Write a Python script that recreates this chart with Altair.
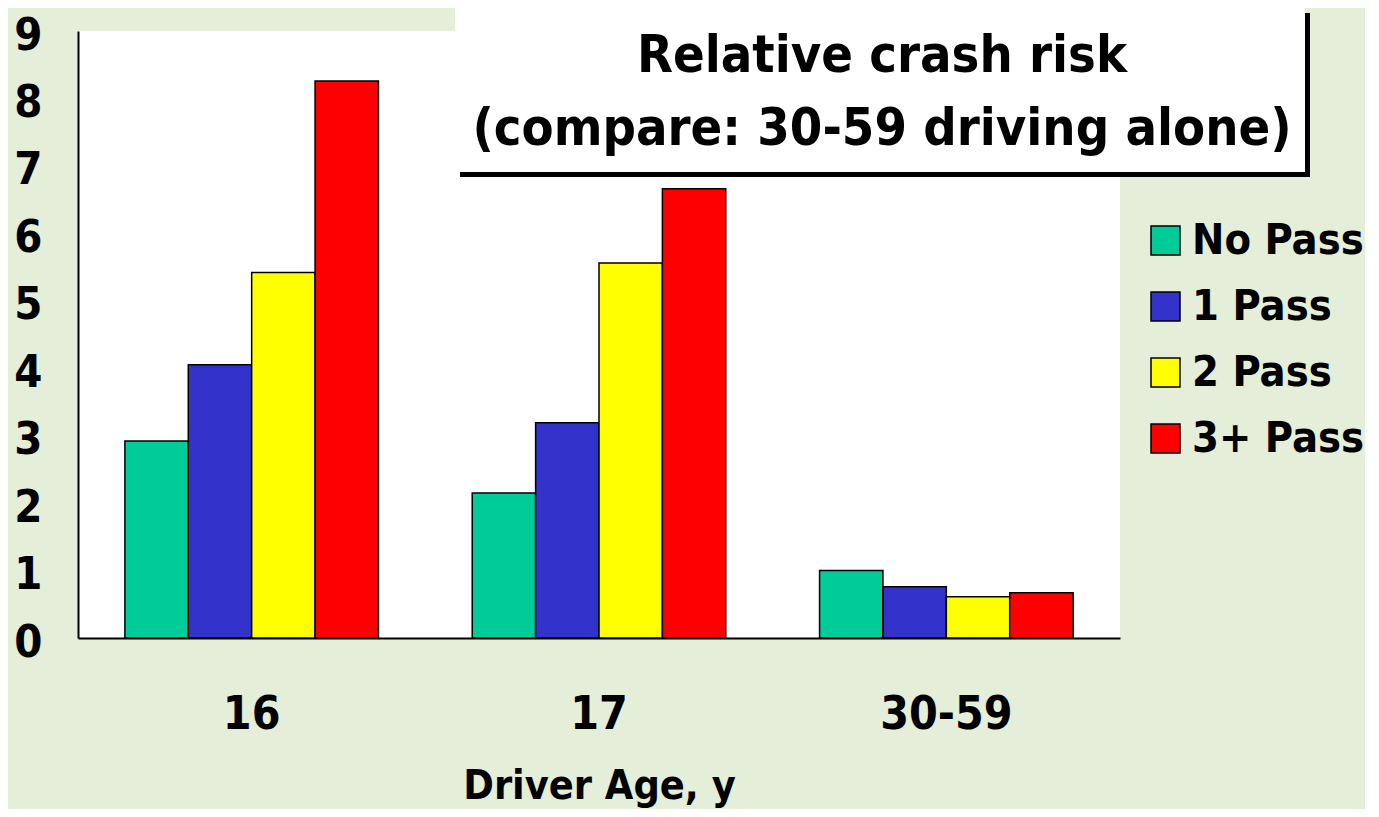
import altair as alt
import pandas as pd

ages = ["16", "17", "30-59"]
passes = ["No Pass", "1 Pass", "2 Pass", "3+ Pass"]
colors = ["#00CC99", "#3333CC", "#FFFF00", "#FF0000"]
risk_16 = [2.92, 4.05, 5.42, 8.26]
risk_17 = [2.15, 3.19, 5.56, 6.66]
risk_3059 = [1.0, 0.76, 0.61, 0.67]
y_ticks = list(range(0, 10))
title_lines = ["Relative crash risk", "(compare: 30-59 driving alone)"]
x_title = "Driver Age, y"

FONT = "DejaVu Sans Condensed"
BG = "#E5EED8"

rows = []
for age, vals in zip(ages, [risk_16, risk_17, risk_3059]):
    for p, v in zip(passes, vals):
        rows.append({"age": age, "pass": p, "risk": v})
df = pd.DataFrame(rows)

bars = alt.Chart(df).mark_bar(stroke="black", strokeWidth=1.5).encode(
    x=alt.X("age:N", sort=ages,
            scale=alt.Scale(paddingInner=0.27, paddingOuter=0.135),
            axis=alt.Axis(title=x_title, labelAngle=0, ticks=False, tickSize=0,
                          domainColor="black", domainWidth=2,
                          labelFont=FONT, labelFontSize=46, labelFontWeight="bold",
                          labelColor="black", labelPadding=90, labelBaseline="alphabetic",
                          titleFont=FONT, titleFontSize=41, titleFontWeight="bold",
                          titleColor="black", titleBaseline="alphabetic", titleY=160)),
    xOffset=alt.XOffset("pass:N", sort=passes,
                        scale=alt.Scale(paddingInner=0, paddingOuter=0)),
    y=alt.Y("risk:Q", scale=alt.Scale(domain=[0, 9], nice=False, zero=True),
            axis=alt.Axis(title=None, values=y_ticks, ticks=False, tickSize=0, grid=False,
                          domainColor="black", domainWidth=2,
                          labelFont=FONT, labelFontSize=45, labelFontWeight="bold",
                          labelColor="black", labelPadding=36, labelBaseline="middle",
                          labelOffset=4)),
    color=alt.Color("pass:N", sort=passes,
                    scale=alt.Scale(domain=passes, range=colors),
                    legend=alt.Legend(title=None, orient="none", legendX=1066, legendY=188,
                                      symbolType="square", symbolSize=841,
                                      symbolStrokeColor="black", symbolStrokeWidth=1.5,
                                      symbolOpacity=1, labelLimit=400,
                                      labelFont=FONT, labelFontSize=43, labelFontWeight="bold",
                                      labelColor="black", labelOffset=5, rowPadding=22,
                                      padding=0)),
)

dummy = alt.Data(values=[{"k": 0}])

shadow = alt.Chart(dummy).mark_rect(color="black").encode(
    x=alt.value(382), x2=alt.value(1232), y=alt.value(-18), y2=alt.value(146))
box = alt.Chart(dummy).mark_rect(color="white").encode(
    x=alt.value(377), x2=alt.value(1227), y=alt.value(-23), y2=alt.value(141))
t1 = alt.Chart(dummy).mark_text(font=FONT, fontSize=52, fontWeight="bold", color="black",
                                align="center", baseline="alphabetic").encode(
    x=alt.value(804), y=alt.value(41), text=alt.value(title_lines[0]))
t2 = alt.Chart(dummy).mark_text(font=FONT, fontSize=52, fontWeight="bold", color="black",
                                align="center", baseline="alphabetic").encode(
    x=alt.value(804), y=alt.value(114), text=alt.value(title_lines[1]))

chart = alt.layer(bars, shadow, box, t1, t2).properties(
    width=1042, height=607,
    autosize=alt.AutoSizeParams(type="none"),
    padding={"left": 70, "top": 23, "right": 245, "bottom": 171},
).configure(background=BG).configure_view(fill="white", strokeWidth=0)

chart.save("out.html", embed_options={"renderer": "svg", "actions": False})
